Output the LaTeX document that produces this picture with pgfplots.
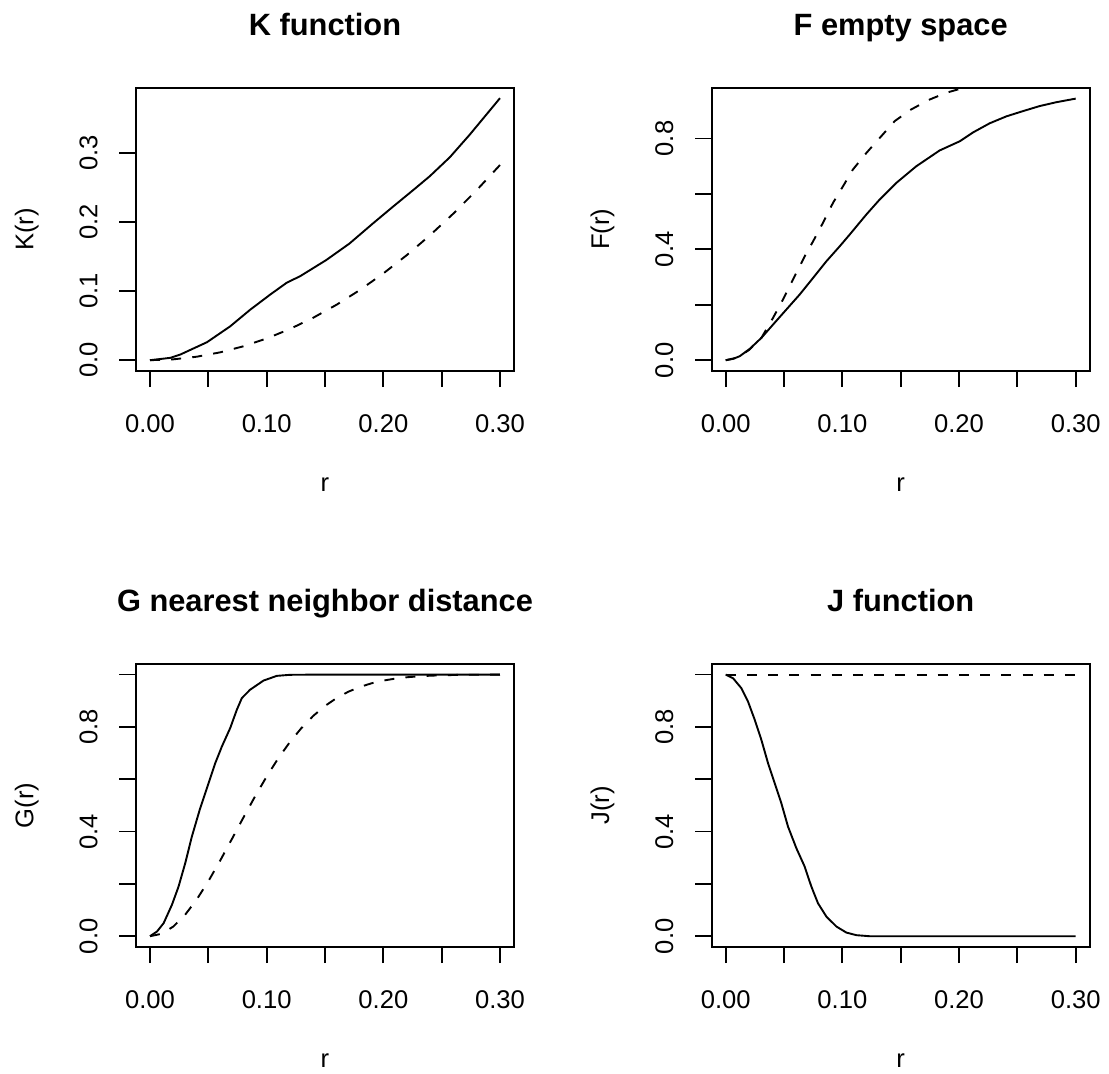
\documentclass[border=0pt]{standalone}
\usepackage{fontspec}
\setmainfont{Liberation Sans}
\usepackage{pgfplots}
\pgfplotsset{compat=1.18}
\pgfplotsset{rstyle/.style={
  scale only axis, width=189pt, height=141.3pt,
  xmin=-0.012, xmax=0.312,
  axis line style={line width=0.9pt},
  tick align=outside, xtick pos=bottom, ytick pos=left,
  major tick length=8.25pt,
  every tick/.style={black, line width=0.9pt},
  xtick={0,0.05,0.1,0.15,0.2,0.25,0.3},
  xticklabels={0.00,,0.10,,0.20,,0.30},
  tick label style={font=\fontsize{12.8}{14}\selectfont},
  xticklabel style={anchor=base, yshift=-22.5pt},
  yticklabel style={xshift=-11pt, rotate=90, anchor=base},
  title style={font=\bfseries\fontsize{15.4}{18}\selectfont, at={(axis description cs:0.5,1.143)}, anchor=base, yshift=0pt},
  xlabel style={font=\fontsize{12.8}{14}\selectfont, at={(axis description cs:0.5,-0.428)}, anchor=base},
  ylabel style={font=\fontsize{12.8}{14}\selectfont, at={(axis description cs:-0.2717,0.5)}, anchor=base},
  xlabel={r},
  solid line/.style={black, line width=0.95pt, no markers},
  dash line/.style={black, line width=0.95pt, no markers, dash pattern=on 5pt off 5.6pt},
}}
\begin{document}
\begin{tikzpicture}
\useasboundingbox (0,0) rectangle (554.5pt,537pt);

% K function
\begin{axis}[rstyle, at={(68pt,351.65pt)}, anchor=south west,
  ymin=-0.0152, ymax=0.3942, ytick={0,0.1,0.2,0.3}, yticklabels={0.0,0.1,0.2,0.3},
  title={K function}, ylabel={K(r)}]
\addplot[solid line] coordinates {
(0,0) (0.0174,0.0034) (0.026,0.0082) (0.0488,0.026) (0.0687,0.049) (0.0858,0.073)
(0.103,0.095) (0.117,0.112) (0.129,0.122) (0.151,0.145) (0.171,0.169) (0.191,0.198)
(0.208,0.222) (0.226,0.247) (0.2398,0.2665) (0.257,0.294) (0.274,0.3266) (0.30,0.3796)};
\addplot[dash line] coordinates {
(0,0) (0.02,0.00126) (0.04,0.00503) (0.06,0.01131) (0.08,0.02011) (0.10,0.03142)
(0.12,0.04524) (0.14,0.06158) (0.16,0.08042) (0.18,0.10179) (0.20,0.12566)
(0.22,0.15205) (0.24,0.18096) (0.26,0.21237) (0.28,0.24630) (0.30,0.28274)};
\end{axis}

% F empty space
\begin{axis}[rstyle, at={(355.85pt,351.65pt)}, anchor=south west,
  ymin=-0.0378, ymax=0.982, ytick={0,0.2,0.4,0.6,0.8}, yticklabels={0.0,,0.4,,0.8},
  title={F empty space}, ylabel={F(r)}]
\addplot[solid line] coordinates {
(0,0) (0.0063,0.0048) (0.012,0.0144) (0.0206,0.0409) (0.0306,0.0806) (0.0406,0.1287)
(0.052,0.1829) (0.0634,0.237) (0.0749,0.297) (0.0863,0.357) (0.0977,0.411) (0.1063,0.4535)
(0.1206,0.526) (0.132,0.580) (0.1463,0.640) (0.1634,0.700) (0.1834,0.757) (0.2006,0.790)
(0.212,0.822) (0.2263,0.855) (0.2406,0.880) (0.2549,0.899) (0.269,0.917) (0.2834,0.931) (0.30,0.944)};
\addplot[dash line] coordinates {
(0,0) (0.01,0.0094) (0.02,0.037) (0.0306,0.0806) (0.0406,0.153) (0.0491,0.219) (0.0591,0.303)
(0.0677,0.375) (0.0749,0.429) (0.0834,0.496) (0.092,0.568) (0.1006,0.628) (0.109,0.688)
(0.1206,0.748) (0.132,0.802) (0.1449,0.863) (0.159,0.905) (0.175,0.941) (0.189,0.965)
(0.2006,0.979) (0.22,0.990) (0.25,0.997) (0.30,1.0)};
\end{axis}

% G nearest neighbor distance
\begin{axis}[rstyle, at={(68pt,63.65pt)}, anchor=south west,
  ymin=-0.04, ymax=1.04, ytick={0,0.2,0.4,0.6,0.8,1.0}, yticklabels={0.0,,0.4,,0.8,},
  title={G nearest neighbor distance}, ylabel={G(r)}]
\addplot[solid line] coordinates {
(0,0) (0.006,0.018) (0.0117,0.05) (0.0188,0.12) (0.0245,0.19) (0.0302,0.279)
(0.0359,0.381) (0.043,0.489) (0.0502,0.585) (0.0559,0.661) (0.0616,0.725) (0.0687,0.795)
(0.0744,0.865) (0.0787,0.91) (0.0858,0.942) (0.0973,0.977) (0.1087,0.995) (0.12,0.999)
(0.15,1.0) (0.30,1.0)};
\addplot[dash line] coordinates {
(0,0) (0.01,0.0094) (0.02,0.0370) (0.03,0.0813) (0.04,0.1400) (0.05,0.2099) (0.06,0.2878)
(0.07,0.3698) (0.08,0.4529) (0.09,0.5339) (0.10,0.6103) (0.11,0.6803) (0.12,0.7426)
(0.13,0.7966) (0.14,0.8424) (0.15,0.8800) (0.16,0.9104) (0.17,0.9344) (0.18,0.9528)
(0.19,0.9667) (0.20,0.9769) (0.21,0.9843) (0.22,0.9896) (0.23,0.9932) (0.24,0.9956)
(0.25,0.9972) (0.26,0.9983) (0.27,0.9990) (0.28,0.9994) (0.29,0.9996) (0.30,0.9998)};
\end{axis}

% J function
\begin{axis}[rstyle, at={(355.85pt,63.65pt)}, anchor=south west,
  ymin=-0.04, ymax=1.04, ytick={0,0.2,0.4,0.6,0.8,1.0}, yticklabels={0.0,,0.4,,0.8,},
  title={J function}, ylabel={J(r)}]
\addplot[solid line] coordinates {
(0,1.0) (0.0063,0.986) (0.0134,0.948) (0.0191,0.897) (0.0249,0.827) (0.0306,0.75)
(0.0363,0.661) (0.042,0.585) (0.0477,0.508) (0.0534,0.419) (0.0606,0.336) (0.0677,0.266)
(0.0734,0.19) (0.0791,0.126) (0.0863,0.075) (0.0949,0.037) (0.1034,0.014) (0.112,0.004)
(0.1234,0.0) (0.30,0.0)};
\addplot[dash line] coordinates {(0,1.0) (0.30,1.0)};
\end{axis}
\end{tikzpicture}
\end{document}
